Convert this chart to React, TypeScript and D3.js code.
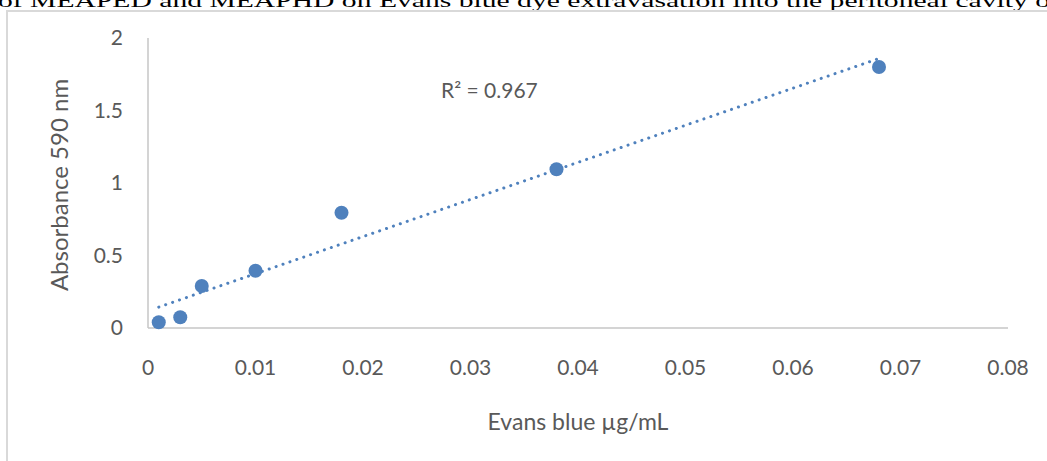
import { useEffect, useRef } from 'react'
import * as d3 from 'd3'

const concentrations = [0.001, 0.003, 0.005, 0.01, 0.018, 0.038, 0.068]
const absorbances = [0.04, 0.074, 0.29, 0.395, 0.795, 1.095, 1.8]
const xTicks = [0, 0.01, 0.02, 0.03, 0.04, 0.05, 0.06, 0.07, 0.08]
const yTicks = [0, 0.5, 1, 1.5, 2]
const r2Label = 'R² = 0.967'
const caption = 'of MEAPED and MEAPHD on Evans blue dye extravasation into the peritoneal cavity o'

export default function App() {
  const svgRef = useRef<SVGSVGElement | null>(null)

  useEffect(() => {
    if (!svgRef.current) return
    const width = 1047
    const height = 461
    const font = 'Lato, Carlito, "Open Sans", sans-serif'
    const textColor = '#595959'
    const blue = '#4f81bd'

    const svg = d3.select(svgRef.current)
    svg.selectAll('*').remove()
    svg.attr('width', width).attr('height', height)

    // caption, cut off at the top like the source page
    svg
      .append('text')
      .attr('x', -2)
      .attr('y', 7)
      .attr('textLength', 1052)
      .attr('lengthAdjust', 'spacingAndGlyphs')
      .style('font-family', '"Liberation Serif", "Times New Roman", serif')
      .style('font-size', '18px')
      .attr('fill', '#000')
      .text(caption)

    // chart frame
    svg
      .append('rect')
      .attr('x', 7)
      .attr('y', 11)
      .attr('width', 1100)
      .attr('height', 600)
      .attr('fill', '#fff')
      .attr('stroke', '#d9d9d9')
      .attr('stroke-width', 2)

    const x = d3.scaleLinear().domain([0, 0.08]).range([148, 1008])
    const y = d3.scaleLinear().domain([0, 2]).range([328, 38])

    // axes
    svg
      .append('line')
      .attr('x1', x(0))
      .attr('x2', x(0.08))
      .attr('y1', y(0))
      .attr('y2', y(0))
      .attr('stroke', '#c6c6c6')
      .attr('stroke-width', 1.5)
    svg
      .append('line')
      .attr('x1', x(0))
      .attr('x2', x(0))
      .attr('y1', y(0))
      .attr('y2', y(2))
      .attr('stroke', '#c6c6c6')
      .attr('stroke-width', 1.5)

    svg
      .append('g')
      .selectAll('text')
      .data(xTicks)
      .enter()
      .append('text')
      .attr('x', d => x(d))
      .attr('y', 375)
      .attr('text-anchor', 'middle')
      .style('font-family', font)
      .style('font-size', '21px')
      .attr('fill', textColor)
      .text(d => (d === 0 ? '0' : d3.format('.2f')(d)))

    svg
      .append('g')
      .selectAll('text')
      .data(yTicks)
      .enter()
      .append('text')
      .attr('x', 123)
      .attr('y', d => y(d) + 7)
      .attr('text-anchor', 'end')
      .style('font-family', font)
      .style('font-size', '21px')
      .attr('fill', textColor)
      .text(d => String(d))

    // axis titles
    svg
      .append('text')
      .attr('x', 578)
      .attr('y', 430)
      .attr('text-anchor', 'middle')
      .style('font-family', font)
      .style('font-size', '23px')
      .attr('fill', textColor)
      .text('Evans blue µg/mL')

    svg
      .append('text')
      .attr('transform', 'translate(68, 185) rotate(-90)')
      .attr('text-anchor', 'middle')
      .style('font-family', font)
      .style('font-size', '24px')
      .attr('fill', textColor)
      .text('Absorbance 590 nm')

    // linear trendline (least squares)
    const mx = d3.mean(concentrations) as number
    const my = d3.mean(absorbances) as number
    const sxy = d3.sum(concentrations, (c, i) => (c - mx) * (absorbances[i] - my))
    const sxx = d3.sum(concentrations, c => (c - mx) ** 2)
    const slope = sxy / sxx
    const intercept = my - slope * mx
    const xMin = d3.min(concentrations) as number
    const xMax = d3.max(concentrations) as number

    svg
      .append('line')
      .attr('x1', x(xMin))
      .attr('y1', y(intercept + slope * xMin))
      .attr('x2', x(xMax))
      .attr('y2', y(intercept + slope * xMax))
      .attr('stroke', blue)
      .attr('stroke-width', 3)
      .attr('stroke-linecap', 'round')
      .attr('stroke-dasharray', '0.1 7.2')

    // points
    svg
      .append('g')
      .selectAll('circle')
      .data(concentrations)
      .enter()
      .append('circle')
      .attr('cx', d => x(d))
      .attr('cy', (d, i) => y(absorbances[i]))
      .attr('r', 7)
      .attr('fill', blue)

    svg
      .append('text')
      .attr('x', 441)
      .attr('y', 98)
      .style('font-family', font)
      .style('font-size', '21px')
      .attr('fill', textColor)
      .text(r2Label)
  }, [])

  return (
    <svg
      ref={svgRef}
      style={{ position: 'absolute', left: 0, top: 0, display: 'block' }}
    ></svg>
  )
}
